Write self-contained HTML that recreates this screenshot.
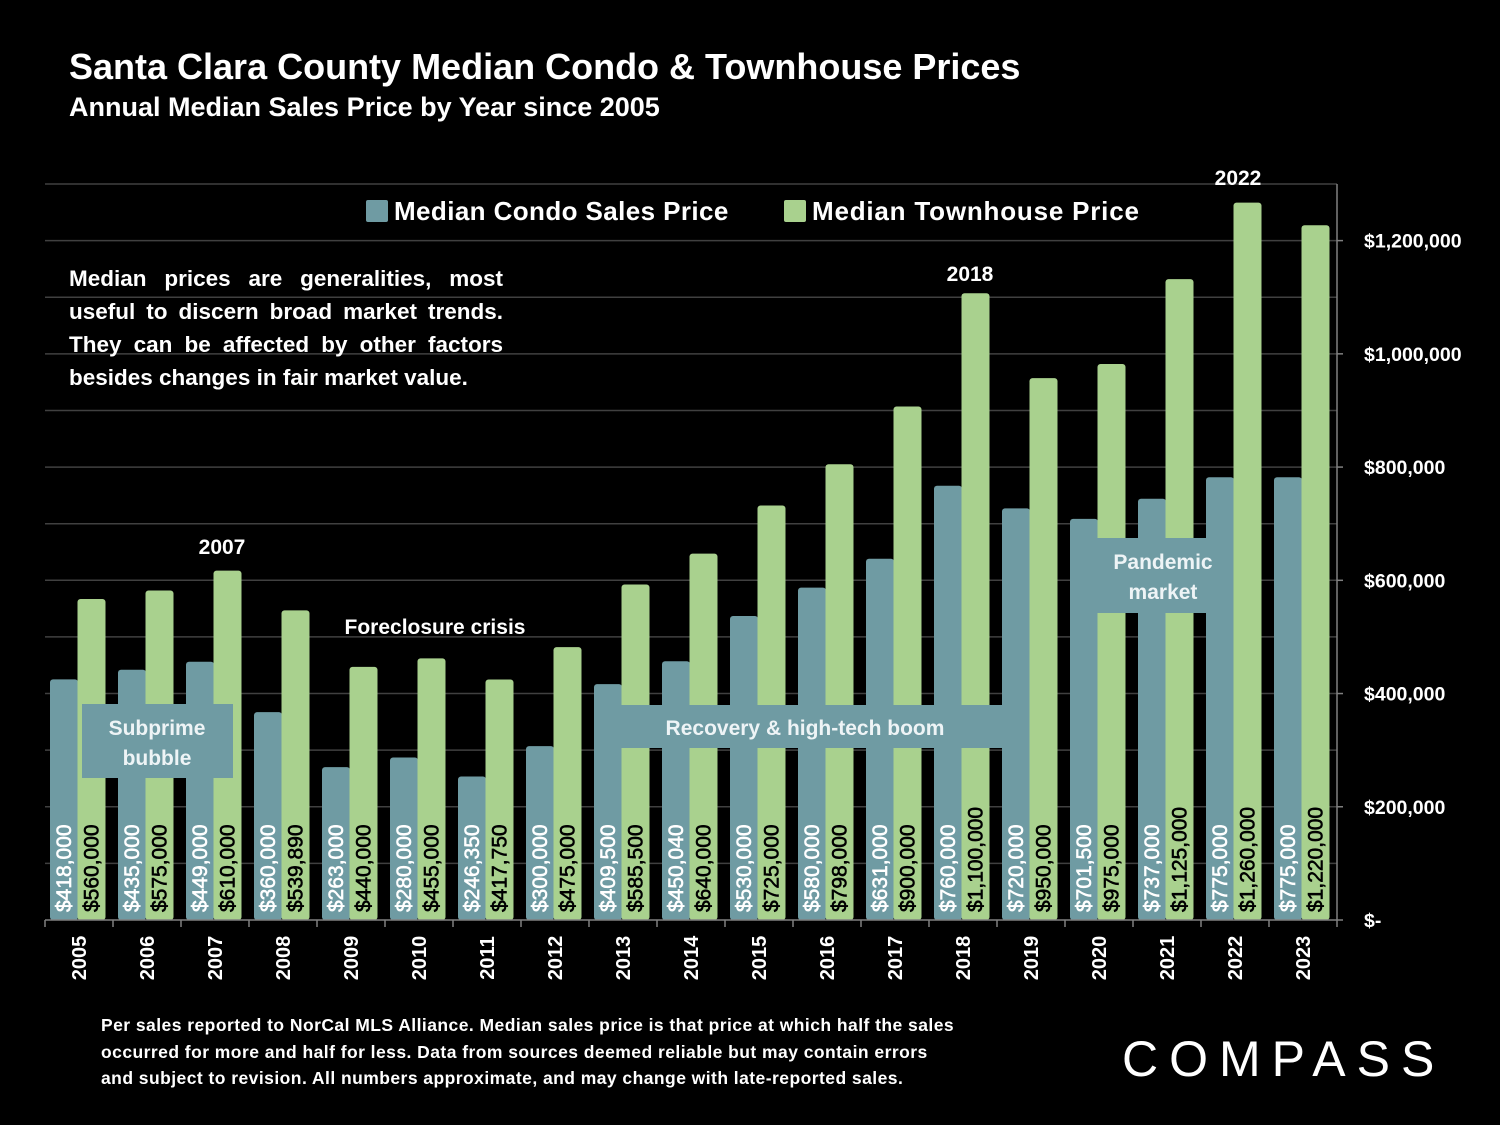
<!DOCTYPE html>
<html><head><meta charset="utf-8"><style>
body{margin:0;background:#000;}
#wrap{position:relative;width:1500px;height:1125px;background:#000;overflow:hidden;font-family:"Liberation Sans",sans-serif;color:#fff}
.t{position:absolute;white-space:nowrap;font-weight:bold}
</style></head><body>
<div id="wrap">
<div class="t" style="left:69px;top:46px;font-size:36px">Santa Clara County Median Condo &amp; Townhouse Prices</div>
<div class="t" style="left:69px;top:92px;font-size:27px">Annual Median Sales Price by Year since 2005</div>
<svg id="chart" width="1500" height="1125" style="position:absolute;left:0;top:0"></svg>
<div class="t" style="left:69px;top:262px;width:434px;font-size:22.5px;line-height:33px;white-space:normal;text-align:justify;text-align-last:left">Median prices are generalities, most useful to discern broad market trends. They can be affected by other factors besides changes in fair market value.</div>
<div class="t" style="left:101px;top:1012px;font-size:17.5px;line-height:26.5px;letter-spacing:0.45px">Per sales reported to NorCal MLS Alliance. Median sales price is that price at which half the sales<br>occurred for more and half for less. Data from sources deemed reliable but may contain errors<br>and subject to revision. All numbers approximate, and may change with late-reported sales.</div>
<div class="t" style="left:1122px;top:1030px;font-size:50px;font-weight:normal;letter-spacing:11px">COMPASS</div>
</div>
<script>
const years=['2005','2006','2007','2008','2009','2010','2011','2012','2013','2014','2015','2016','2017','2018','2019','2020','2021','2022','2023'];
const condo=[418000,435000,449000,360000,263000,280000,246350,300000,409500,450040,530000,580000,631000,760000,720000,701500,737000,775000,775000];
const town=[560000,575000,610000,539890,440000,455000,417750,475000,585500,640000,725000,798000,900000,1100000,950000,975000,1125000,1260000,1220000];
const condoLabels=['$418,000','$435,000','$449,000','$360,000','$263,000','$280,000','$246,350','$300,000','$409,500','$450,040','$530,000','$580,000','$631,000','$760,000','$720,000','$701,500','$737,000','$775,000','$775,000'];
const townLabels=['$560,000','$575,000','$610,000','$539,890','$440,000','$455,000','$417,750','$475,000','$585,500','$640,000','$725,000','$798,000','$900,000','$1,100,000','$950,000','$975,000','$1,125,000','$1,260,000','$1,220,000'];
const tickVals=[0,200000,400000,600000,800000,1000000,1200000];
const tickLabels=['$-','$200,000','$400,000','$600,000','$800,000','$1,000,000','$1,200,000'];
const gridVals=[100000,200000,300000,400000,500000,600000,700000,800000,900000,1000000,1100000,1200000,1300000];
const X0=45,X1=1337,Y0=920,Y1=184,YMAX=1300000;
const cw=(X1-X0)/years.length;
const y=v=>Y0-(v/YMAX)*(Y0-Y1)-4;
const xc=i=>X0+cw*i;
const NS='http://www.w3.org/2000/svg';
const svg=document.getElementById('chart');
function el(t,a){const e=document.createElementNS(NS,t);for(const k in a)e.setAttribute(k,a[k]);svg.appendChild(e);return e;}
gridVals.forEach(v=>{const gy=Y0-(v/YMAX)*(Y0-Y1);const g=el('line',{x1:X0,x2:X1,y1:gy,y2:gy,stroke:'#404040','stroke-width':1.5});

});
years.forEach((yr,i)=>{
 const l=xc(i);
 const b1=el('rect',{x:l+5,y:y(condo[i]),width:28,height:Y0-y(condo[i]),fill:'#6f9ba3',rx:3});
 
 
 const b2=el('rect',{x:l+32.5,y:y(town[i]),width:28,height:Y0-y(town[i]),fill:'#a9d18e',rx:3});
 
 
});
[[82,704,151,74,'subprime-box'],[600,705,403,43,'recovery-box'],[1072,538,160,75,'pandemic-box']].forEach(b=>{
 const r=el('rect',{x:b[0],y:b[1],width:b[2],height:b[3],fill:'#6f9ba3'});
 
 });
function txt(x,yy,s,o){const t=el('text',Object.assign({x:x,y:yy,fill:'#fff','font-size':21,'font-weight':'bold','font-family':'Liberation Sans, sans-serif','text-anchor':'middle'},o||{}));t.textContent=s;return t;}
[[157,735,'Subprime'],[157,765,'bubble'],[805,735,'Recovery & high-tech boom'],[1163,569,'Pandemic'],[1163,599,'market']].forEach(a=>{const t=txt(a[0],a[1],a[2],{fill:'#eef4f6'});
 
 });
[[222,554,'2007'],[435,634,'Foreclosure crisis'],[970,281,'2018'],[1238,185,'2022']].forEach(a=>{const t=txt(a[0],a[1],a[2]);
 
 });
years.forEach((yr,i)=>{
 const l=xc(i);
 const a=txt(0,0,condoLabels[i],{'text-anchor':'start',transform:`translate(${l+26},912) rotate(-90)`,'font-size':21,'font-weight':'normal','stroke':'#fff','stroke-width':0.6});
 
 
 const b=txt(0,0,townLabels[i],{'text-anchor':'start',fill:'#000',transform:`translate(${l+53.5},912) rotate(-90)`,'font-size':21,'font-weight':'normal','stroke':'#000','stroke-width':0.6});
 
 
 const yl=txt(0,0,yr,{'text-anchor':'middle',transform:`translate(${l+cw/2+7},958) rotate(-90)`,'font-size':20});
 
 
});
for(let i=0;i<=years.length;i++){const t=el('line',{x1:xc(i),x2:xc(i),y1:Y0,y2:927,stroke:'#808080','stroke-width':1.5});
 
 }
const xa=el('line',{x1:X0,x2:X1,y1:Y0,y2:Y0,stroke:'#808080','stroke-width':1.5});


const ya=el('line',{x1:X1,x2:X1,y1:Y1,y2:Y0,stroke:'#808080','stroke-width':1.5});


tickVals.forEach((v,i)=>{
 const gy=Y0-(v/YMAX)*(Y0-Y1);
 const tk=el('line',{x1:X1,x2:X1+6,y1:gy,y2:gy,stroke:'#808080','stroke-width':1.5});
 
 
 const t=txt(1364,gy+7,tickLabels[i],{'text-anchor':'start','font-size':19.5});
 
 
});
const lb=el('rect',{x:350,y:190,width:800,height:44,fill:'#000'});


const l1=el('rect',{x:366,y:200,width:22,height:22,fill:'#6f9ba3',rx:2});


const lt1=txt(394,220,'Median Condo Sales Price',{'text-anchor':'start','font-size':26,'letter-spacing':0.4});


const l2=el('rect',{x:784,y:200,width:22,height:22,fill:'#a9d18e',rx:2});


const lt2=txt(812,220,'Median Townhouse Price',{'text-anchor':'start','font-size':26,'letter-spacing':0.8});


</script>
</body></html>
